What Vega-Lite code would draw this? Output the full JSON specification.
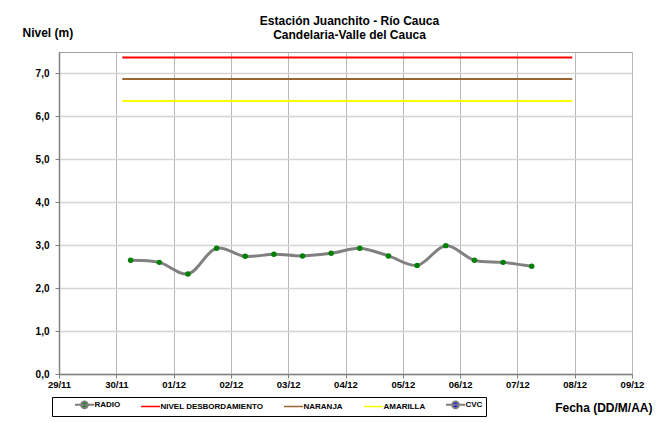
{
  "$schema": "https://vega.github.io/schema/vega-lite/v6.json",
  "autosize": "none",
  "width": 573,
  "height": 322,
  "padding": {"left": 59, "top": 52, "right": 32, "bottom": 49},
  "background": "white",
  "title": {
    "text": ["Estación Juanchito - Río Cauca", "Candelaria-Valle del Cauca"],
    "font": "Liberation Sans",
    "fontSize": 12,
    "fontWeight": "bold",
    "color": "black",
    "anchor": "middle",
    "frame": "group",
    "offset": -16,
    "lineHeight": 13.6,
    "dx": 4
  },
  "datasets": {
    "radio": [
      {"serie": "RADIO", "fecha": "2010-11-30T06:00:00", "nivel": 2.65},
      {"serie": "RADIO", "fecha": "2010-11-30T18:00:00", "nivel": 2.60},
      {"serie": "RADIO", "fecha": "2010-12-01T06:00:00", "nivel": 2.33},
      {"serie": "RADIO", "fecha": "2010-12-01T18:00:00", "nivel": 2.93},
      {"serie": "RADIO", "fecha": "2010-12-02T06:00:00", "nivel": 2.74},
      {"serie": "RADIO", "fecha": "2010-12-02T18:00:00", "nivel": 2.79},
      {"serie": "RADIO", "fecha": "2010-12-03T06:00:00", "nivel": 2.75},
      {"serie": "RADIO", "fecha": "2010-12-03T18:00:00", "nivel": 2.81},
      {"serie": "RADIO", "fecha": "2010-12-04T06:00:00", "nivel": 2.93},
      {"serie": "RADIO", "fecha": "2010-12-04T18:00:00", "nivel": 2.75},
      {"serie": "RADIO", "fecha": "2010-12-05T06:00:00", "nivel": 2.53},
      {"serie": "RADIO", "fecha": "2010-12-05T18:00:00", "nivel": 2.99},
      {"serie": "RADIO", "fecha": "2010-12-06T06:00:00", "nivel": 2.65},
      {"serie": "RADIO", "fecha": "2010-12-06T18:00:00", "nivel": 2.60},
      {"serie": "RADIO", "fecha": "2010-12-07T06:00:00", "nivel": 2.51}
    ],
    "niveles": [
      {"serie": "NIVEL DESBORDAMIENTO", "nivel": 7.37, "inicio": "2010-11-30T02:30:00", "fin": "2010-12-07T23:00:00"},
      {"serie": "NARANJA", "nivel": 6.87, "inicio": "2010-11-30T02:30:00", "fin": "2010-12-07T23:00:00"},
      {"serie": "AMARILLA", "nivel": 6.36, "inicio": "2010-11-30T02:30:00", "fin": "2010-12-07T23:00:00"}
    ]
  },
  "layer": [
    {
      "data": {"name": "niveles"},
      "mark": {"type": "rule", "strokeWidth": 2},
      "encoding": {
        "x": {
          "field": "inicio",
          "type": "temporal",
          "scale": {"domain": [{"year": 2010, "month": 11, "date": 29}, {"year": 2010, "month": 12, "date": 9}]},
          "axis": {
            "format": "%d/%m",
            "tickCount": {"interval": "day", "step": 1},
            "labelAngle": 0,
            "labelFontSize": 9.5,
            "labelFlush": false,
            "labelOverlap": false,
            "tickSize": 4,
            "labelPadding": 1,
            "gridColor": "#b8b8b8",
            "gridWidth": 1,
            "domainWidth": 1.5,
            "title": "Fecha (DD/M/AA)",
            "titleFontSize": 12,
            "titleX": 593,
            "titleY": 33,
            "titleAlign": "right",
            "titleBaseline": "middle"
          }
        },
        "x2": {"field": "fin"},
        "y": {
          "field": "nivel",
          "type": "quantitative",
          "scale": {"domain": [0, 7.5], "nice": false},
          "axis": {
            "values": [0, 0.5, 1, 1.5, 2, 2.5, 3, 3.5, 4, 4.5, 5, 5.5, 6, 6.5, 7, 7.5],
            "labelExpr": "datum.value % 1 === 0 ? replace(format(datum.value, '.1f'), '.', ',') : ''",
            "tickOpacity": {"condition": {"test": "datum.value % 1 !== 0", "value": 0}, "value": 1},
            "labelFontSize": 10,
            "tickSize": 4,
            "labelPadding": 6,
            "gridColor": "#d4d4d4",
            "gridWidth": 1.5,
            "domainWidth": 1.5,
            "title": "Nivel (m)",
            "titleFontSize": 12,
            "titleAngle": 0,
            "titleAlign": "left",
            "titleBaseline": "middle",
            "titleX": -37,
            "titleY": -20
          }
        },
        "color": {
          "field": "serie",
          "type": "nominal",
          "scale": {
            "domain": ["RADIO", "NIVEL DESBORDAMIENTO", "NARANJA", "AMARILLA", "CVC"],
            "range": ["#808080", "#ff0000", "#996633", "#ffff00", "#808080"]
          },
          "legend": {
            "orient": "none",
            "legendX": -7,
            "legendY": 345,
            "direction": "horizontal",
            "title": null,
            "strokeColor": "black",
            "padding": 3.5,
            "columnPadding": 1,
            "symbolOffset": 25,
            "labelOffset": 6,
            "symbolSize": 361,
            "labelFont": "Liberation Sans",
            "labelFontSize": 8,
            "labelFontWeight": "bold",
            "labelColor": "black",
            "encode": {
              "symbols": {
                "update": {
                  "shape": {"signal": "datum.value === 'RADIO' || datum.value === 'CVC' ? 'M-1,0H1M-0.35,0A0.35,0.35,0,1,1,0.35,0A0.35,0.35,0,1,1,-0.35,0Z' : 'M-1,0H1'"},
                  "fill": {"signal": "datum.value === 'RADIO' ? '#008000' : datum.value === 'CVC' ? '#0000ff' : 'transparent'"},
                  "strokeWidth": {"signal": "datum.value === 'RADIO' || datum.value === 'CVC' ? 2 : 1.5"},
                  "opacity": {"value": 1}
                }
              }
            }
          }
        }
      }
    },
    {
      "data": {"name": "radio"},
      "mark": {"type": "line", "interpolate": "catmull-rom", "strokeWidth": 3},
      "encoding": {
        "x": {"field": "fecha", "type": "temporal"},
        "y": {"field": "nivel", "type": "quantitative"},
        "color": {"field": "serie", "type": "nominal"}
      }
    },
    {
      "data": {"name": "radio"},
      "mark": {"type": "point", "filled": true, "size": 30, "opacity": 1, "color": "#008000"},
      "encoding": {
        "x": {"field": "fecha", "type": "temporal"},
        "y": {"field": "nivel", "type": "quantitative"}
      }
    }
  ],
  "config": {
    "font": "Liberation Sans",
    "view": {"stroke": "#a0a0a0", "strokeWidth": 1},
    "axis": {
      "labelFont": "Liberation Sans",
      "labelFontWeight": "bold",
      "labelColor": "black",
      "titleFont": "Liberation Sans",
      "titleFontWeight": "bold",
      "titleColor": "black",
      "domainColor": "#808080",
      "tickColor": "#808080"
    }
  }
}
